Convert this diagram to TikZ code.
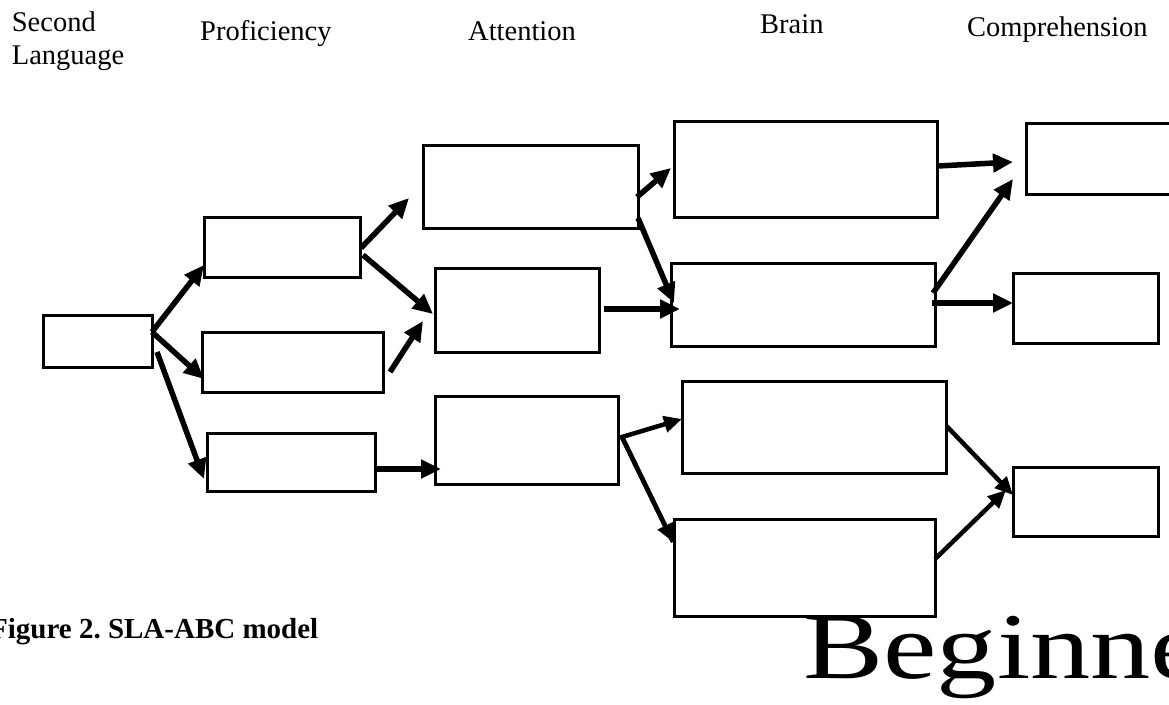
\documentclass[tikz,border=0pt]{standalone}
\usepackage{fontspec}
\setmainfont{Liberation Serif}
\usetikzlibrary{arrows.meta,calc}
\begin{document}
\begin{tikzpicture}[x=1pt,y=-1pt,
  box/.style={draw=black, line width=3pt, fill=white, inner sep=0pt, outer sep=0pt, rectangle},
  arr/.style={line width=5.5pt, -{Triangle[length=20pt,width=18pt]}},
  thinarr/.style={line width=4.5pt, -{Triangle[length=18pt,width=16pt]}},
  hdr/.style={inner sep=0pt, anchor=base west, font=\fontsize{28.5}{32.5}\selectfont}]
\fill[white] (0,0) rectangle (1169,704);
\useasboundingbox (0,0) rectangle (1169,704);

% headers
\node[inner sep=0pt, anchor=north west, align=left, font=\fontsize{28.5}{32.5}\selectfont] (h1) at (11.7,12) {Second\\Language};
\node[hdr] (h2) at (200,40) {Proficiency};
\node[hdr] (h3) at (468,40) {Attention};
\node[hdr] (h4) at (760,33) {Brain};
\node[hdr] (h5) at (967,36) {Comprehension};

% boxes
\node[box, minimum width=109, minimum height=52] (A)  at (97.5,341) {};
\node[box, minimum width=156, minimum height=60] (P1) at (282,247) {};
\node[box, minimum width=181, minimum height=60] (P2) at (292.5,362) {};
\node[box, minimum width=168, minimum height=58] (P3) at (291,462) {};
\node[box, minimum width=215, minimum height=83] (T1) at (530.5,186.5) {};
\node[box, minimum width=164, minimum height=84] (T2) at (517,310) {};
\node[box, minimum width=183, minimum height=88] (T3) at (526.5,440) {};
\node[box, minimum width=263, minimum height=96] (B1) at (805.5,169) {};
\node[box, minimum width=264, minimum height=83] (B2) at (803,304.5) {};
\node[box, minimum width=264, minimum height=92] (B3) at (814,427) {};
\node[box, minimum width=261, minimum height=97] (B4) at (804.5,567.5) {};
\node[box, minimum width=154, minimum height=71] (C1) at (1103,158.5) {};
\node[box, minimum width=145, minimum height=70] (C2) at (1085.5,308) {};
\node[box, minimum width=145, minimum height=69] (C3) at (1085.5,501.5) {};

% connectors
\draw[arr] ($(A.east)+(0,-9)$) -- ($(P1.west)+(0,18)$);
\draw[arr] ($(A.east)+(0,-9)$) -- ($(P2.west)+(2,17)$);
\draw[arr] ($(A.east)+(5,11)$) -- ($(P3.west)+(-3,17)$);
\draw[arr] ($(P1.east)+(1,1)$) -- ($(T1.west)+(-14,11.5)$);
\draw[arr] ($(P1.east)+(3,8)$) -- ($(T2.west)+(-2,4)$);
\draw[arr] ($(P2.east)+(7,10)$) -- ($(T2.west)+(-12,11)$);
\draw[arr, line width=6pt] ($(P3.east)+(2,7)$) -- ($(T3.west)+(6,29)$);
\draw[arr] ($(T1.east)+(-1,10.5)$) -- ($(B1.west)+(-3,-1)$);
\draw[arr] ($(T1.east)+(0,31.5)$) -- ($(B2.west)+(3,-1.5)$);
\draw[arr, line width=6pt] ($(T2.east)+(5,-1)$) -- ($(B2.west)+(9,4.5)$);
\coordinate (fork) at ($(T3.east)+(4,-3)$);
\draw[thinarr, line join=miter] ($(B4.west)+(-1,-25.5)$) -- (fork) -- ($(B3.west)+(0,-8)$);
\draw[thinarr] (fork) -- ($(B4.west)+(-1,-25.5)$);
\draw[arr] ($(B1.east)+(1,-3)$) -- ($(C1.west)+(-13,3.5)$);
\draw[arr] ($(B2.east)+(-2,-11.5)$) -- ($(C1.west)+(-13,20.5)$);
\draw[arr] ($(B2.east)+(-3,-1.5)$) -- ($(C2.west)+(0,-5)$);
\draw[thinarr] ($(B3.east)+(0.5,-1)$) -- ($(C3.west)+(0,-6.5)$);
\draw[thinarr] ($(B4.east)+(0,-8.5)$) -- ($(C3.west)+(-7,-11.5)$);

% caption and large text
\node[inner sep=0pt, anchor=base east, font=\fontsize{29}{33}\selectfont\bfseries] (cap) at (318.5,638) {\frenchspacing Figure 2. SLA-ABC model};
\node[inner sep=0pt, anchor=base west, font=\fontsize{94}{100}\selectfont] (big) at (803,678) {\scalebox{1.28}[1]{Beginne}};
\end{tikzpicture}
\end{document}
